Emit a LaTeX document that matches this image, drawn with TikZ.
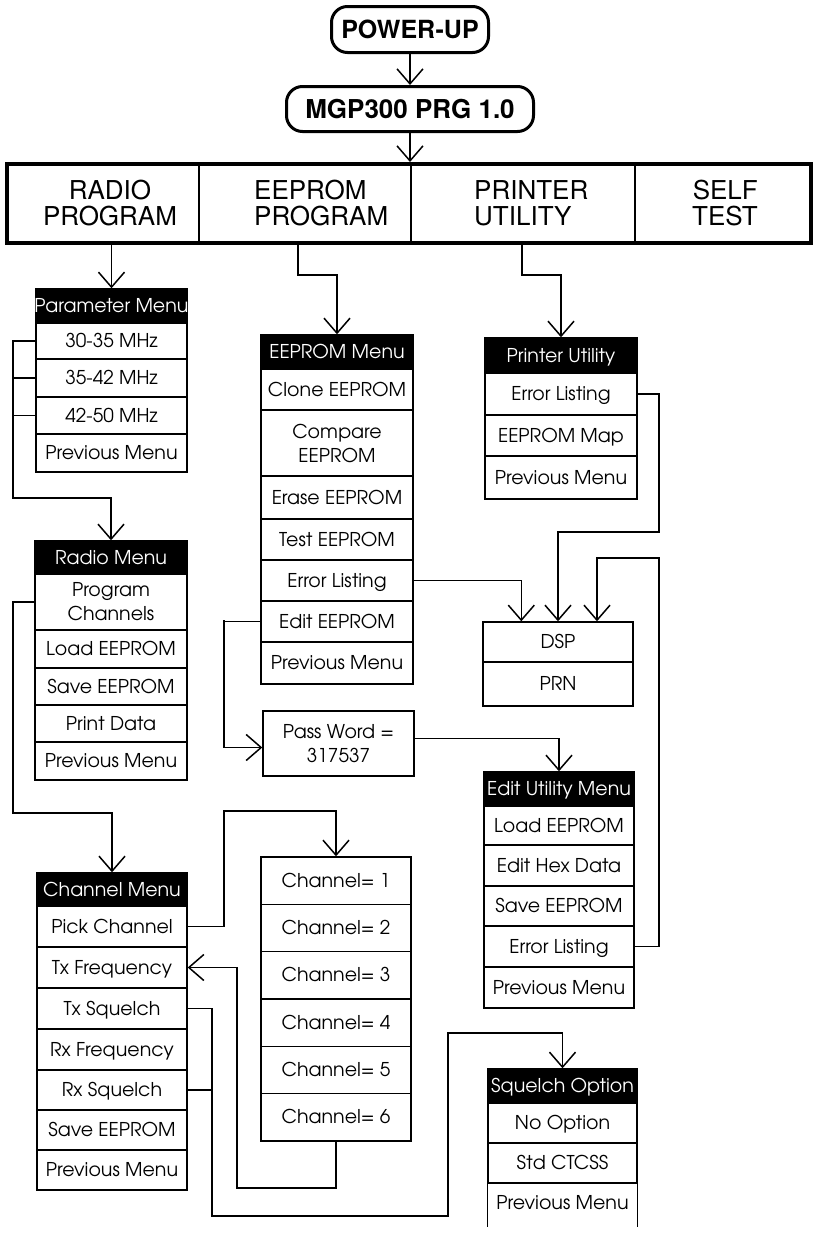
\documentclass[tikz,border=0pt]{standalone}
\usepackage{fontspec}
\usetikzlibrary{arrows.meta}
\newfontfamily\advfont{texgyreadventor-regular.otf}
\newfontfamily\herosfont{TeX Gyre Heros}
\begin{document}
\begin{tikzpicture}[x=1pt,y=-1pt,
  every node/.style={inner sep=0pt},
  row/.style={draw, line width=1.4pt, align=center, font=\advfont\fontsize{19}{22}\selectfont, text height=14pt, text depth=1pt},
  rowtwo/.style={draw, line width=1.4pt, align=center, font=\advfont\fontsize{19}{24}\selectfont},
  hdr/.style={row, fill=black, text=white, draw=black},
  conn/.style={line width=1.5pt},
  arr/.style={conn, -{Straight Barb[length=15pt,width=26pt,line width=1.5pt]}},
  title/.style={draw, line width=3pt, rounded corners=16pt, font=\herosfont\bfseries\fontsize{25}{30}\selectfont},
  cat/.style={font=\herosfont\fontsize{26}{26}\selectfont}
]
\useasboundingbox (0,0) rectangle (817,1234);

% titles
\node[title, minimum width=157pt, minimum height=46pt] (pwr) at (410,29.5) {POWER-UP};
\node[title, minimum width=247pt, minimum height=45pt, font=\herosfont\bfseries\fontsize{26}{30}\selectfont] (mgp) at (410,109) {MGP300 PRG 1.0};

% main bar
\node[draw, line width=4pt, minimum width=804pt, minimum height=79pt] (bar) at (409,203.5) {};
\coordinate (dv1) at (199,0);
\coordinate (dv2) at (411,0);
\coordinate (dv3) at (635,0);
\draw[conn] (dv1 |- bar.north) -- (dv1 |- bar.south);
\draw[conn] (dv2 |- bar.north) -- (dv2 |- bar.south);
\draw[conn] (dv3 |- bar.north) -- (dv3 |- bar.south);
\node[cat, align=center] (radio) at (110,203) {RADIO\\PROGRAM};
\node[cat, align=left, anchor=west] (eeprog) at (254,203) {EEPROM\\PROGRAM};
\node[cat, align=left, anchor=west] (prutil) at (474,203) {PRINTER\\UTILITY};
\node[cat, align=right, anchor=east] (stest) at (758,203) {SELF\\TEST};

% parameter menu
\node[hdr, minimum width=151pt, minimum height=34pt] (par0) at (111.5,306) {\makebox[0pt]{Parameter Menu}};
\node[row, minimum width=151pt, minimum height=36pt] (par1) at (111.5,341) {30-35 MHz};
\node[row, minimum width=151pt, minimum height=38pt] (par2) at (111.5,378) {35-42 MHz};
\node[row, minimum width=151pt, minimum height=37pt] (par3) at (111.5,415.5) {42-50 MHz};
\node[row, minimum width=151pt, minimum height=38pt] (par4) at (111.5,453) {Previous Menu};

% radio menu
\node[hdr, minimum width=152pt, minimum height=33pt] (rm0) at (111,557.5) {Radio Menu};
\node[rowtwo, minimum width=152pt, minimum height=56pt] (rm1) at (111,602) {Program\\Channels};
\node[row, minimum width=152pt, minimum height=38pt] (rm2) at (111,649) {Load EEPROM};
\node[row, minimum width=152pt, minimum height=37pt] (rm3) at (111,686.5) {Save EEPROM};
\node[row, minimum width=152pt, minimum height=37pt] (rm4) at (111,723.5) {Print Data};
\node[row, minimum width=152pt, minimum height=38pt] (rm5) at (111,761) {Previous Menu};

% channel menu
\node[hdr, minimum width=150pt, minimum height=33pt] (cm0) at (112,889.5) {\makebox[0pt]{Channel Menu}};
\node[row, minimum width=150pt, minimum height=41pt] (cm1) at (112,926.5) {Pick Channel};
\node[row, minimum width=150pt, minimum height=41pt] (cm2) at (112,967.5) {Tx Frequency};
\node[row, minimum width=150pt, minimum height=41pt] (cm3) at (112,1008.5) {Tx Squelch};
\node[row, minimum width=150pt, minimum height=41pt] (cm4) at (112,1049.5) {Rx Frequency};
\node[row, minimum width=150pt, minimum height=40pt] (cm5) at (112,1090) {Rx Squelch};
\node[row, minimum width=150pt, minimum height=40pt] (cm6) at (112,1130) {Save EEPROM};
\node[row, minimum width=150pt, minimum height=40pt] (cm7) at (112,1170) {Previous Menu};

% eeprom menu
\node[hdr, minimum width=152pt, minimum height=34pt] (ee0) at (337,352) {EEPROM Menu};
\node[row, minimum width=152pt, minimum height=41pt] (ee1) at (337,389.5) {Clone EEPROM};
\node[rowtwo, minimum width=152pt, minimum height=66pt] (ee2) at (337,443) {Compare\\EEPROM};
\node[row, minimum width=152pt, minimum height=43pt] (ee3) at (337,497.5) {Erase EEPROM};
\node[row, minimum width=152pt, minimum height=41pt] (ee4) at (337,539.5) {Test EEPROM};
\node[row, minimum width=152pt, minimum height=41pt] (ee5) at (337,580.5) {Error Listing};
\node[row, minimum width=152pt, minimum height=41pt] (ee6) at (337,621.5) {Edit EEPROM};
\node[row, minimum width=152pt, minimum height=42pt] (ee7) at (337,663) {Previous Menu};

% pass word
\node[rowtwo, minimum width=151pt, minimum height=65pt] (pw) at (338.5,743.5) {Pass Word =\\317537};

% channel list
\node[row, minimum width=150pt, minimum height=47.33pt] (ch1) at (336,880.67) {Channel= 1};
\node[row, minimum width=150pt, minimum height=47.33pt] (ch2) at (336,928) {Channel= 2};
\node[row, minimum width=150pt, minimum height=47.33pt] (ch3) at (336,975.33) {Channel= 3};
\node[row, minimum width=150pt, minimum height=47.33pt] (ch4) at (336,1022.67) {Channel= 4};
\node[row, minimum width=150pt, minimum height=47.33pt] (ch5) at (336,1070) {Channel= 5};
\node[row, minimum width=150pt, minimum height=47.33pt] (ch6) at (336,1117.33) {Channel= 6};

% printer utility
\node[hdr, minimum width=152pt, minimum height=35pt] (pu0) at (561,355.5) {Printer Utility};
\node[row, minimum width=152pt, minimum height=42pt] (pu1) at (561,394) {Error Listing};
\node[row, minimum width=152pt, minimum height=41pt] (pu2) at (561,435.5) {EEPROM Map};
\node[row, minimum width=152pt, minimum height=43pt] (pu3) at (561,477.5) {Previous Menu};

% dsp / prn
\node[row, minimum width=150pt, minimum height=40pt] (dsp) at (558,642) {DSP};
\node[row, minimum width=150pt, minimum height=44pt] (prn) at (558,684) {PRN};

% edit utility
\node[hdr, minimum width=150pt, minimum height=34pt] (eu0) at (559,789) {\makebox[0pt]{Edit Utility Menu}};
\node[row, minimum width=150pt, minimum height=39pt] (eu1) at (559,825.5) {Load EEPROM};
\node[row, minimum width=150pt, minimum height=41pt] (eu2) at (559,865.5) {Edit Hex Data};
\node[row, minimum width=150pt, minimum height=40pt] (eu3) at (559,906) {Save EEPROM};
\node[row, minimum width=150pt, minimum height=41pt] (eu4) at (559,946.5) {Error Listing};
\node[row, minimum width=150pt, minimum height=41pt] (eu5) at (559,987.5) {Previous Menu};

% squelch option
\node[hdr, minimum width=149pt, minimum height=34pt] (sq0) at (562.5,1086) {\makebox[0pt]{Squelch Option}};
\node[row, minimum width=149pt, minimum height=40pt] (sq1) at (562.5,1123) {No Option};
\node[row, minimum width=149pt, minimum height=40pt] (sq2) at (562.5,1163) {Std CTCSS};
\node[row, draw=none, minimum width=149pt, minimum height=40pt] (sq3) at (562.5,1203) {Previous Menu};
\draw[line width=1.4pt] (sq3.north west) -- ++(0,45);
\draw[line width=1.4pt] (sq3.north east) -- ++(0,45);

% connectors
\draw[arr] (pwr.south) -- (mgp.north);
\draw[arr] (mgp.south) -- (mgp.south |- bar.north);
\draw[arr] (par0.north |- bar.south) -- (par0.north);
\coordinate (e1) at (298,275);
\draw[arr] (e1 |- bar.south) -- (e1) -| (ee0.north);
\coordinate (p1) at (522,275);
\draw[arr] (p1 |- bar.south) -- (p1) -| (pu0.north);

\coordinate (b1) at (13,498);
\draw[arr] (par1.west) -| (b1) -| (rm0.north);
\draw[conn] (par2.west) -- (par2.west -| b1);
\draw[conn] (par3.west) -- (par3.west -| b1);

\coordinate (b2) at (13,813);
\draw[arr] (rm1.west) -| (b2) -| (cm0.north);

\coordinate (b3) at (224,811);
\draw[arr] (cm1.east) -| (b3) -| (ch1.north);

\coordinate (b4) at (237,1188);
\draw[arr] (ch6.south) |- (b4) |- (cm2.east);

\coordinate (b5) at (212,1216);
\coordinate (b6) at (448,1033);
\draw[arr] (cm3.east) -| (b5) -| (b6) -| (sq0.north);
\draw[conn] (cm5.east) -- (cm5.east -| b5);

\coordinate (b7) at (224,620);
\draw[arr] (ee6.west) -| (b7) |- ([yshift=-4pt]pw.west);

\draw[arr] (ee5.east) -| ([xshift=39pt]dsp.north west);

\coordinate (b8) at (659,532);
\draw[arr] (pu1.east) -| (b8) -| (dsp.north);

\coordinate (b9) at (659,558);
\draw[arr] (eu4.east) -| (b9) -| ([xshift=39pt]dsp.north);

\draw[arr] ([yshift=5pt]pw.east) -| (eu0.north);
\end{tikzpicture}
\end{document}
